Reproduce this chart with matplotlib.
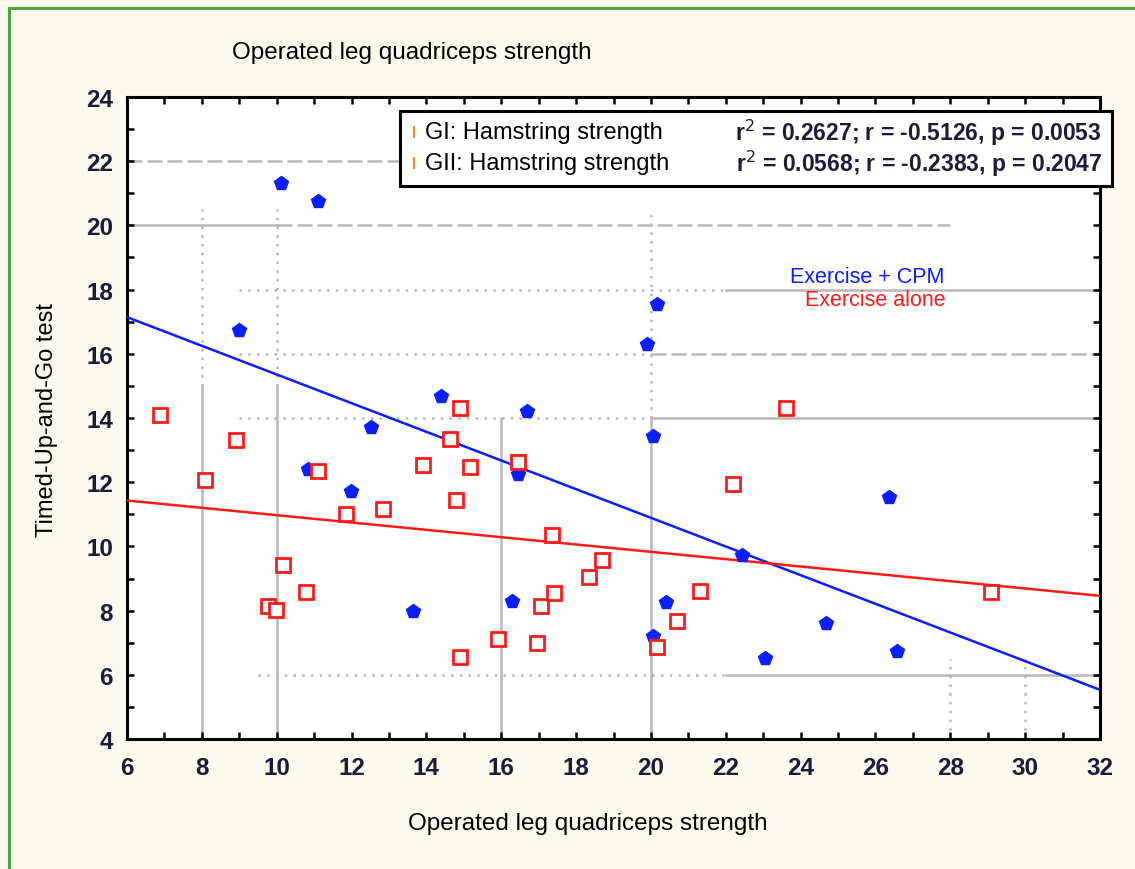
import matplotlib
matplotlib.use("Agg")
import numpy as np
import matplotlib.pyplot as plt
from matplotlib.patches import Rectangle
from matplotlib.lines import Line2D
from matplotlib.ticker import MultipleLocator

plt.rcParams["font.family"] = ["Liberation Sans", "DejaVu Sans"]

# GI  - Exercise + CPM (filled blue markers)
cpm_x = [10.12, 11.10, 8.99, 14.39, 12.52, 10.84, 11.99, 13.64, 16.29, 16.45, 16.69,
         19.90, 20.16, 20.06, 20.06, 20.40, 22.43, 23.05, 24.68, 26.36, 26.58]
cpm_y = [21.32, 20.76, 16.73, 14.70, 13.73, 12.42, 11.74, 7.99, 8.31, 12.24, 14.23,
         16.32, 17.54, 13.45, 7.21, 8.27, 9.74, 6.53, 7.62, 11.55, 6.75]

# GII - Exercise alone (open red squares)
alone_x = [6.88, 8.08, 8.91, 9.77, 9.98, 10.17, 10.78, 11.10, 11.85, 12.84, 13.91,
           14.63, 14.90, 14.79, 15.17, 14.90, 15.91, 16.45, 16.96, 17.36, 17.06,
           17.41, 18.35, 18.69, 20.16, 20.70, 21.31, 22.19, 23.61, 29.09]
alone_y = [14.08, 12.08, 13.33, 8.15, 8.02, 9.43, 8.59, 12.36, 11.02, 11.18, 12.55,
           13.36, 14.30, 11.46, 12.46, 6.56, 7.12, 12.64, 7.00, 10.37, 8.15,
           8.56, 9.05, 9.59, 6.87, 7.68, 8.62, 11.93, 14.30, 8.59]

# fitted lines as printed in the original (intercept, slope)
fit_cpm = (19.82, -0.4465)
fit_alone = (12.115, -0.1142)

legend_names = ["GI: Hamstring strength", "GII: Hamstring strength"]
legend_stats = ["r$^{2}$ = 0.2627; r = -0.5126, p = 0.0053",
                "r$^{2}$ = 0.0568; r = -0.2383, p = 0.2047"]

BG = "#fdf9ee"
GREEN = "#4aa843"
GRID = "#b8b8b8"
BLUE = "#0a1eff"
RED = "#ff1a1a"
TXT = "#1b1b3a"

fig = plt.figure(figsize=(11.35, 8.7), dpi=100, facecolor=BG)
ax = fig.add_axes([0.1119, 0.1494, 0.8573, 0.7380])
ax.set_facecolor("white")

# green frame (left + top edges of the figure box)
fig.add_artist(Line2D([0.0075, 0.0075], [0.0, 0.9897], transform=fig.transFigure,
                      color=GREEN, lw=2.2))
fig.add_artist(Line2D([0.0075, 1.0], [0.9897, 0.9897], transform=fig.transFigure,
                      color=GREEN, lw=2.2))

ax.set_xlim(6, 32)
ax.set_ylim(4, 24)

# patchy statistica-style grid: (value, start, end, style)
dot = (0, (1, 2.5))
dash = (0, (6, 2))
hgrid = [(22, 6, 22.5, dash), (20, 6, 10, "-"), (20, 10, 28, dash),
         (18, 9, 22, dot), (18, 22, 32, "-"), (16, 9, 20, dot), (16, 20, 32, dash),
         (14, 9, 20, dot), (14, 20, 32, "-"), (6, 9.5, 22, dot), (6, 22, 32, "-")]
vgrid = [(8, 15, 20.5, dot), (8, 4, 15, "-"), (10, 15, 20.5, dot), (10, 4, 15, "-"),
         (16, 4, 14, "-"), (20, 14, 20.5, dot), (20, 4, 14, "-"),
         (28, 4, 6.5, dot), (30, 4, 6.5, dot)]
for y, x0, x1, ls in hgrid:
    ax.plot([x0, x1], [y, y], color=GRID, lw=1.8, ls=ls, zorder=1)
for x, y0, y1, ls in vgrid:
    ax.plot([x, x], [y0, y1], color=GRID, lw=1.8, ls=ls, zorder=1)

# regression lines over the full x range
xs = np.array(ax.get_xlim())
ax.plot(xs, fit_cpm[0] + fit_cpm[1] * xs, color=BLUE, lw=1.8, zorder=3)
ax.plot(xs, fit_alone[0] + fit_alone[1] * xs, color=RED, lw=1.8, zorder=3)

ax.plot(cpm_x, cpm_y, ls="none", marker="p", ms=10.5, mfc=BLUE, mec=BLUE, zorder=4)
ax.plot(alone_x, alone_y, ls="none", marker="s", ms=9.5, mfc="white", mec=RED,
        mew=2.0, zorder=4)

ax.xaxis.set_major_locator(MultipleLocator(2))
ax.xaxis.set_minor_locator(MultipleLocator(1))
ax.yaxis.set_major_locator(MultipleLocator(2))
ax.yaxis.set_minor_locator(MultipleLocator(1))
ax.tick_params(which="both", direction="in", top=True, right=True, width=1.8,
               length=5, color="black")
ax.tick_params(axis="x", pad=12)
ax.tick_params(axis="y", pad=10)
for lab in ax.get_xticklabels() + ax.get_yticklabels():
    lab.set_fontsize(17.5)
    lab.set_fontweight("bold")
    lab.set_color(TXT)
for sp in ax.spines.values():
    sp.set_linewidth(2.2)
    sp.set_color("black")

# legend box with fit statistics
ax.add_patch(Rectangle((0.2806, 0.861), 0.7317, 0.117, transform=ax.transAxes,
                       facecolor="white", edgecolor="black", lw=2.2, zorder=6,
                       clip_on=False))
for i, (nm, st) in enumerate(zip(legend_names, legend_stats)):
    yy = 0.9455 - i * 0.0485
    ax.plot([0.295], [yy], transform=ax.transAxes, marker="|", ms=9, mew=1.5,
            color="#f08a24", zorder=7, clip_on=False)
    ax.text(0.306, yy, nm, transform=ax.transAxes, fontsize=17, color="black",
            va="center", ha="left", zorder=7)
    ax.text(1.002, yy, st, transform=ax.transAxes, fontsize=16.5, color=TXT,
            fontweight="bold", va="center", ha="right", zorder=7)

ax.text(0.681, 0.721, "Exercise + CPM", transform=ax.transAxes, fontsize=15.5,
        color=BLUE, va="center", ha="left", zorder=5,
        bbox=dict(boxstyle="square,pad=0.1", fc="white", ec="none"))
ax.text(0.697, 0.684, "Exercise alone", transform=ax.transAxes, fontsize=15.5,
        color=RED, va="center", ha="left", zorder=5)

fig.text(0.363, 0.939, "Operated leg quadriceps strength", fontsize=17.5,
         color="black", ha="center", va="center")
fig.text(0.518, 0.0529, "Operated leg quadriceps strength", fontsize=17.5,
         color="black", ha="center", va="center")
fig.text(0.0414, 0.517, "Timed-Up-and-Go test", fontsize=17, rotation=90,
         color="black", ha="center", va="center")

fig.savefig("out.png", dpi=100, facecolor=BG)
